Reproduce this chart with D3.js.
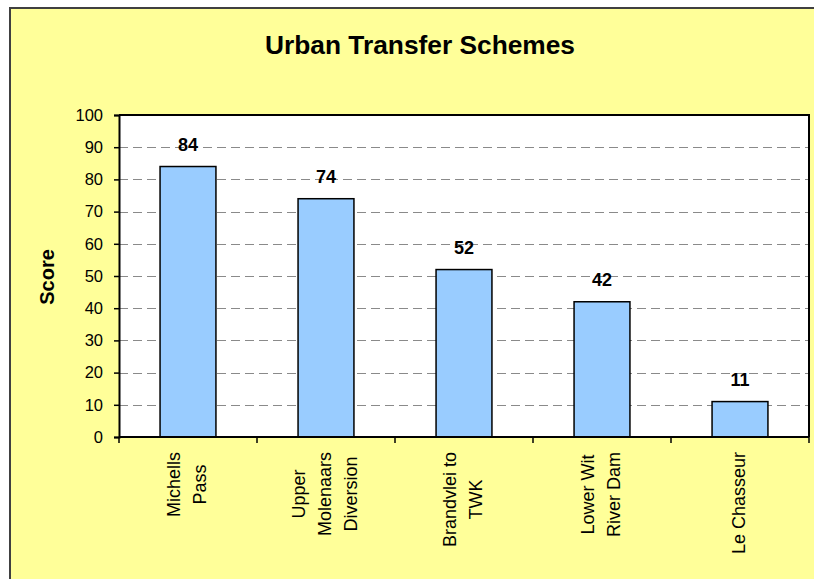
<!DOCTYPE html>
<html>
<head>
<meta charset="utf-8">
<script src="https://cdn.jsdelivr.net/npm/d3@7"></script>
<style>
  html, body { margin: 0; padding: 0; background: #ffffff; }
  svg { display: block; font-family: "Liberation Sans", Arial, sans-serif; }
</style>
</head>
<body>
<svg id="chart" width="814" height="579"></svg>
<script>
// Scheme names (lines of each wrapped label) and their scores
const categories = [
  ["Michells", "Pass"],
  ["Upper", "Molenaars", "Diversion"],
  ["Brandvlei to", "TWK"],
  ["Lower Wit", "River Dam"],
  ["Le Chasseur"]
];
const scores = [84, 74, 52, 42, 11];
const yTicks = [0, 10, 20, 30, 40, 50, 60, 70, 80, 90, 100];
const chartTitle = "Urban Transfer Schemes";
const yTitle = "Score";

const svg = d3.select("#chart");
const W = 814, H = 579;
const plot = { left: 119, right: 809, top: 115, bottom: 437 };

// Chart background panel
svg.append("rect")
  .attr("x", 10).attr("y", 8)
  .attr("width", W - 10 + 4).attr("height", H - 8 + 4)
  .attr("fill", "#ffff99")
  .attr("stroke", "#404040").attr("stroke-width", 2);

svg.append("text")
  .attr("x", 420).attr("y", 54)
  .attr("text-anchor", "middle")
  .attr("font-size", 25).attr("font-weight", "bold")
  .attr("textLength", 310).attr("lengthAdjust", "spacingAndGlyphs")
  .text(chartTitle);

const keys = d3.range(categories.length);
const x = d3.scaleBand().domain(keys).range([plot.left, plot.right]).paddingInner(0).paddingOuter(0);
const y = d3.scaleLinear().domain([0, 100]).range([plot.bottom, plot.top]);

// Plot area
svg.append("rect")
  .attr("x", plot.left).attr("y", plot.top)
  .attr("width", plot.right - plot.left).attr("height", plot.bottom - plot.top)
  .attr("fill", "#ffffff");

// Dashed gridlines
svg.append("g")
  .selectAll("line")
  .data(yTicks.filter(t => t > 0 && t < 100))
  .join("line")
  .attr("x1", plot.left).attr("x2", plot.right)
  .attr("y1", d => Math.round(y(d)) + 0.5).attr("y2", d => Math.round(y(d)) + 0.5)
  .attr("stroke", "#8a8a8a").attr("stroke-width", 1)
  .attr("stroke-dasharray", "9,5");

// Bars
const barW = x.bandwidth() * 0.405;
svg.append("g")
  .selectAll("rect")
  .data(scores)
  .join("rect")
  .attr("x", (d, i) => x(i) + (x.bandwidth() - barW) / 2)
  .attr("y", d => y(d))
  .attr("width", barW)
  .attr("height", d => y(0) - y(d))
  .attr("fill", "#99ccff")
  .attr("stroke", "#000000").attr("stroke-width", 1.5);

// Value labels
svg.append("g")
  .selectAll("text")
  .data(scores)
  .join("text")
  .attr("x", (d, i) => x(i) + x.bandwidth() / 2)
  .attr("y", d => y(d) - 16)
  .attr("text-anchor", "middle")
  .attr("font-size", 18).attr("font-weight", "bold")
  .text(d => d);

// Plot border (top and right)
svg.append("path")
  .attr("d", `M${plot.left},${plot.top}H${plot.right}V${plot.bottom}`)
  .attr("fill", "none").attr("stroke", "#000").attr("stroke-width", 2);

// Y axis
const yAxis = svg.append("g")
  .attr("transform", `translate(${plot.left},0)`)
  .call(d3.axisLeft(y).tickValues(yTicks).tickSize(5).tickPadding(11));
yAxis.select(".domain").attr("stroke-width", 2);
yAxis.selectAll(".tick line").attr("stroke-width", 1.5);
yAxis.selectAll("text").attr("font-size", 16.5).attr("font-family", "Liberation Sans, Arial, sans-serif").attr("fill", "#000");

// X axis with ticks on band boundaries
const xAxis = svg.append("g").attr("transform", `translate(0,${plot.bottom})`);
xAxis.append("line")
  .attr("x1", plot.left).attr("x2", plot.right)
  .attr("stroke", "#000").attr("stroke-width", 2);
xAxis.selectAll("line.tk")
  .data(d3.range(categories.length + 1))
  .join("line").attr("class", "tk")
  .attr("x1", i => i < categories.length ? x(i) : plot.right)
  .attr("x2", i => i < categories.length ? x(i) : plot.right)
  .attr("y1", 0).attr("y2", 6)
  .attr("stroke", "#000").attr("stroke-width", 1.5);

// Rotated, wrapped category labels
const lineGap = 26;
const labelTop = plot.bottom + 15;
categories.forEach((lines, i) => {
  const cx = x(i) + x.bandwidth() / 2;
  const g = svg.append("g");
  const texts = lines.map((ln, j) => g.append("text")
    .attr("font-size", 18)
    .attr("text-anchor", "middle")
    .text(ln));
  const maxLen = d3.max(texts, t => t.node().getComputedTextLength());
  const cy = labelTop + maxLen / 2;
  texts.forEach((t, j) => {
    const lx = cx + (j - (lines.length - 1) / 2) * lineGap;
    t.attr("transform", `translate(${lx + 5},${cy}) rotate(-90)`);
  });
});

// Y axis title
svg.append("text")
  .attr("transform", "translate(54,277) rotate(-90)")
  .attr("text-anchor", "middle")
  .attr("font-size", 20).attr("font-weight", "bold")
  .text(yTitle);
</script>
</body>
</html>
